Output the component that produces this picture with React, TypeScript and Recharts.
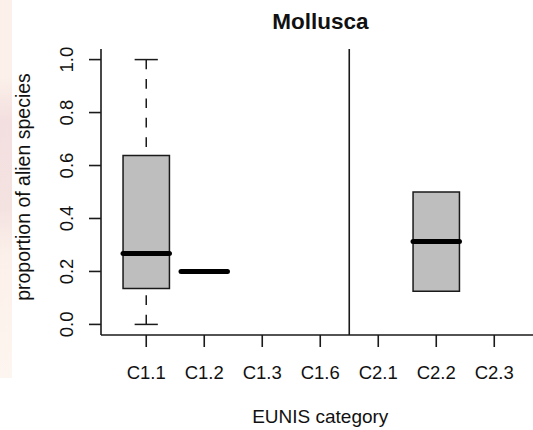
import React from "react";
import {
  ComposedChart,
  XAxis,
  YAxis,
  ReferenceArea,
  ReferenceLine,
  Label,
} from "recharts";

// ---- data ----
const categories = ["C1.1", "C1.2", "C1.3", "C1.6", "C2.1", "C2.2", "C2.3"];
const whiskerLow: (number | null)[] = [0.0, 0.2, null, null, null, 0.125, null];
const quartile1: (number | null)[] = [0.136, 0.2, null, null, null, 0.125, null];
const medians: (number | null)[] = [0.268, 0.2, null, null, null, 0.313, null];
const quartile3: (number | null)[] = [0.638, 0.2, null, null, null, 0.5, null];
const whiskerHigh: (number | null)[] = [1.0, 0.2, null, null, null, 0.5, null];
const yTicks = [0, 0.2, 0.4, 0.6, 0.8, 1.0];
const groupDivider = 4.5; // separates C1.x from C2.x
const chartTitle = "Mollusca";
const xTitle = "EUNIS category";
const yTitle = "proportion of alien species";

// ---- styling ----
const FONT = "'Liberation Sans', Arial, Helvetica, sans-serif";
const INK = "#1a1a1a";
const AXIS_W = 1.6;
const BOX_HALF = 0.4; // boxwex 0.8
const CAP_HALF = 0.2; // staplewex 0.5
const DASH = "9.7 9.7";

const rows = categories.map((c, i) => ({
  pos: i + 1,
  label: c,
  lo: whiskerLow[i],
  q1: quartile1[i],
  med: medians[i],
  q3: quartile3[i],
  hi: whiskerHigh[i],
}));

const XTick = (props: any) => {
  const { x, y, payload } = props;
  const label = categories[Math.round(payload.value) - 1] ?? "";
  return (
    <text x={x} y={y + 14} textAnchor="middle" fontFamily={FONT} fontSize={18.5} fill="#111">
      {label}
    </text>
  );
};

const YTick = (props: any) => {
  const { x, y, payload } = props;
  const bx = x + 1;
  return (
    <text
      x={bx}
      y={y}
      transform={`rotate(-90, ${bx}, ${y})`}
      textAnchor="middle"
      fontFamily={FONT}
      fontSize={18.5}
      fill="#111"
    >
      {Number(payload.value).toFixed(1)}
    </text>
  );
};

export default function App() {
  const marks: React.ReactNode[] = [];
  rows.forEach((r) => {
    if (r.med == null || r.q1 == null || r.q3 == null) return;
    if (r.hi != null && r.hi > r.q3) {
      marks.push(
        <ReferenceLine
          key={`wh-${r.pos}`}
          segment={[{ x: r.pos, y: r.hi }, { x: r.pos, y: r.q3 }]}
          stroke={INK}
          strokeWidth={1.5}
          strokeDasharray={DASH}
          ifOverflow="visible"
        />,
        <ReferenceLine
          key={`ch-${r.pos}`}
          segment={[{ x: r.pos - CAP_HALF, y: r.hi }, { x: r.pos + CAP_HALF, y: r.hi }]}
          stroke={INK}
          strokeWidth={1.5}
          ifOverflow="visible"
        />
      );
    }
    if (r.lo != null && r.lo < r.q1) {
      marks.push(
        <ReferenceLine
          key={`wl-${r.pos}`}
          segment={[{ x: r.pos, y: r.lo }, { x: r.pos, y: r.q1 }]}
          stroke={INK}
          strokeWidth={1.5}
          strokeDasharray={DASH}
          ifOverflow="visible"
        />,
        <ReferenceLine
          key={`cl-${r.pos}`}
          segment={[{ x: r.pos - CAP_HALF, y: r.lo }, { x: r.pos + CAP_HALF, y: r.lo }]}
          stroke={INK}
          strokeWidth={1.5}
          ifOverflow="visible"
        />
      );
    }
    if (r.q3 > r.q1) {
      marks.push(
        <ReferenceArea
          key={`box-${r.pos}`}
          x1={r.pos - BOX_HALF}
          x2={r.pos + BOX_HALF}
          y1={r.q1}
          y2={r.q3}
          fill="#bebebe"
          fillOpacity={1}
          stroke={INK}
          strokeWidth={1.5}
          ifOverflow="visible"
        />
      );
    }
    marks.push(
      <ReferenceLine
        key={`med-${r.pos}`}
        segment={[{ x: r.pos - BOX_HALF, y: r.med }, { x: r.pos + BOX_HALF, y: r.med }]}
        stroke="#000"
        strokeWidth={5}
        strokeLinecap="round"
        ifOverflow="visible"
      />
    );
  });

  return (
    <div
      style={{
        position: "fixed",
        left: 0,
        top: 0,
        width: 533,
        height: 430,
        overflow: "hidden",
        background: "#fff",
      }}
    >
      <div
        style={{
          position: "absolute",
          left: 0,
          top: 0,
          width: 12,
          height: 378,
          background:
            "linear-gradient(to bottom, #fcf1ea 0%, #fcf1ea 20%, #f3dfdf 32%, #f4e2e1 55%, #fcf1ea 68%, #fdf5ef 100%)",
        }}
      />
      <div style={{ position: "absolute", left: 0, top: 0 }}>
        <ComposedChart
          width={560}
          height={430}
          data={rows}
          margin={{ top: 49, right: 20.5, bottom: 0, left: 0 }}
        >
          <XAxis
            xAxisId={0}
            dataKey="pos"
            type="number"
            domain={[0.22, 7.78]}
            allowDataOverflow
            ticks={rows.map((r) => r.pos)}
            interval={0}
            height={95}
            tickSize={12}
            tickMargin={18}
            tick={<XTick />}
            axisLine={{ stroke: INK, strokeWidth: AXIS_W }}
            tickLine={{ stroke: INK, strokeWidth: AXIS_W }}
          >
            <Label
              content={(p: any) => {
                const vb = p.viewBox || {};
                return (
                  <text
                    x={vb.x + vb.width / 2}
                    y={vb.y + 88}
                    textAnchor="middle"
                    fontFamily={FONT}
                    fontSize={19}
                    fill="#111"
                  >
                    {xTitle}
                  </text>
                );
              }}
            />
          </XAxis>
          <XAxis
            xAxisId="top"
            orientation="top"
            type="number"
            dataKey="pos"
            domain={[0.22, 7.78]}
            allowDataOverflow
            height={0}
            tick={false}
            tickLine={false}
            axisLine={{ stroke: INK, strokeWidth: AXIS_W }}
          />
          <YAxis
            type="number"
            domain={[-0.04, 1.04]}
            allowDataOverflow
            ticks={yTicks}
            interval={0}
            width={101}
            tickSize={12}
            tickMargin={17}
            tick={<YTick />}
            axisLine={{ stroke: INK, strokeWidth: AXIS_W }}
            tickLine={{ stroke: INK, strokeWidth: AXIS_W }}
          >
            <Label
              content={(p: any) => {
                const vb = p.viewBox || {};
                const cx = 29.5;
                const cy = vb.y + vb.height / 2 - 5;
                return (
                  <text
                    x={cx}
                    y={cy}
                    transform={`rotate(-90, ${cx}, ${cy})`}
                    textAnchor="middle"
                    fontFamily={FONT}
                    fontSize={19.5}
                    fill="#111"
                  >
                    {yTitle}
                  </text>
                );
              }}
            />
          </YAxis>
          {marks}
          <ReferenceLine x={groupDivider} stroke={INK} strokeWidth={AXIS_W} ifOverflow="visible" />
        </ComposedChart>
      </div>
      <svg
        width={533}
        height={40}
        style={{ position: "absolute", left: 0, top: 0, overflow: "visible" }}
      >
        <text
          x={320.5}
          y={29}
          textAnchor="middle"
          fontFamily={FONT}
          fontWeight="bold"
          fontSize={22.5}
          fill="#111"
        >
          {chartTitle}
        </text>
      </svg>
    </div>
  );
}
